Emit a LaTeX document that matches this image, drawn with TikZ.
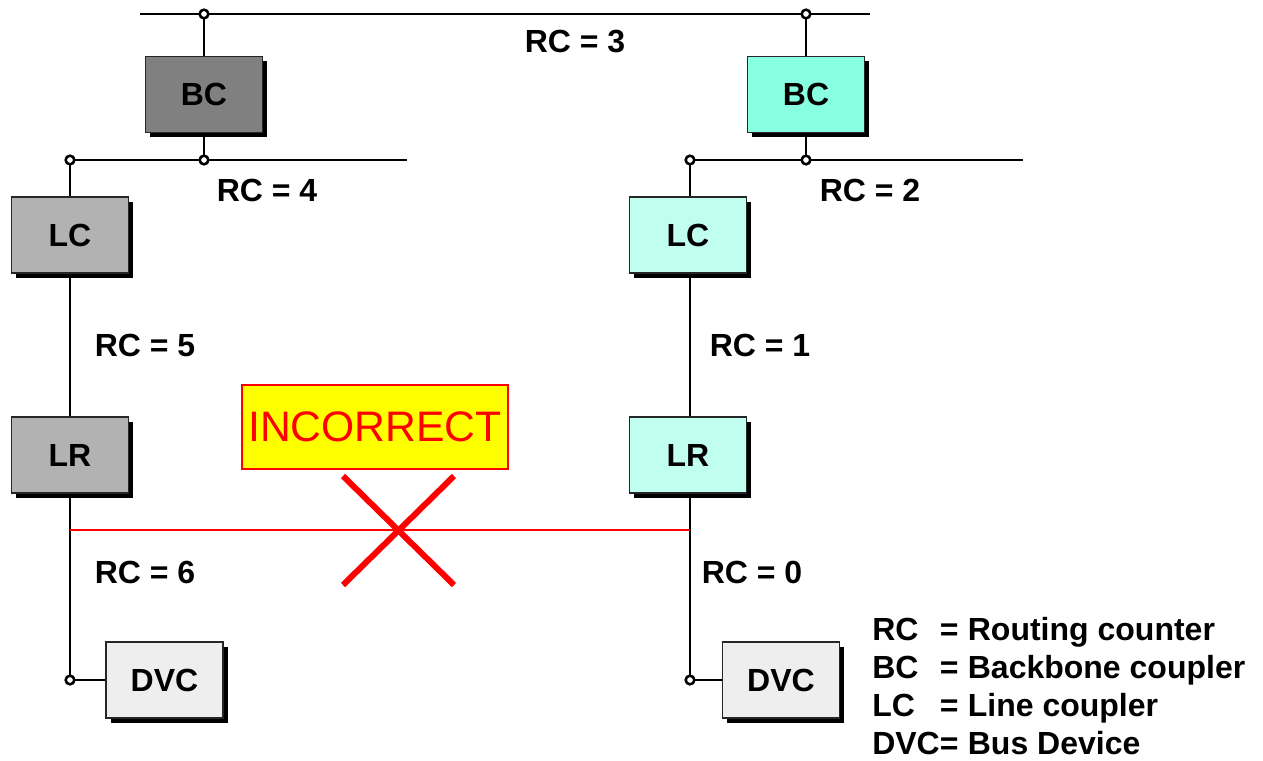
\documentclass[tikz,border=0pt]{standalone}
\usepackage{fontspec}
\setmainfont{Liberation Sans}
\usetikzlibrary{shadows}
\definecolor{bcdark}{HTML}{808080}
\definecolor{gylight}{HTML}{B2B2B2}
\definecolor{dvcgray}{HTML}{EEEEEE}
\definecolor{bcaqua}{HTML}{88FFE0}
\definecolor{aqualight}{HTML}{C0FFF0}
\definecolor{incyellow}{HTML}{FFFF00}
\newcommand{\legrow}[2]{\makebox[50.7pt][l]{#1}=\hspace{7pt}#2}
\begin{document}
\begin{tikzpicture}[x=0.75pt,y=-0.75pt,
  dev/.style={draw=black!85,line width=1.1pt,minimum width=87.75pt,minimum height=57pt,inner sep=0pt,
    font=\fontsize{24}{28}\selectfont\bfseries,
    drop shadow={shadow xshift=3.6pt,shadow yshift=-3.6pt,opacity=1,fill=black}},
  bus/.style={line width=2.1pt,black},
  junc/.style={circle,draw=black,fill=white,line width=1.9pt,minimum size=6.5pt,inner sep=0pt},
  rclabel/.style={font=\fontsize{24}{28}\selectfont\bfseries,inner sep=0pt},
  legtext/.style={font=\fontsize{24}{28}\selectfont\bfseries,inner sep=0pt,anchor=base west},
  redline/.style={line width=2.2pt,red},
  cross/.style={line width=4.5pt,red}]
\useasboundingbox (0,0) rectangle (1263,760);
% junction coordinates
\coordinate (t0) at (140,14);
\coordinate (t1) at (870,14);
\coordinate (lb0) at (407,160);
\coordinate (rb1) at (1023,160);
\coordinate (rl) at (70,530);
\coordinate (rr) at (690,530);
% devices
\node[dev,fill=bcdark] (bcL) at (204,94.5) {BC};
\node[dev,fill=bcaqua] (bcR) at (806,94.5) {BC};
\node[dev,fill=gylight] (lcL) at (70,235) {LC};
\node[dev,fill=aqualight] (lcR) at (688,235) {LC};
\node[dev,fill=gylight] (lrL) at (70,455) {LR};
\node[dev,fill=aqualight] (lrR) at (688,455) {LR};
\node[dev,fill=dvcgray] (dvL) at (164.5,680) {DVC};
\node[dev,fill=dvcgray] (dvR) at (781,680) {DVC};
% buses
\draw[bus] (t0) -- (t1);
\draw[bus] (bcL.north -| 204,0) -- (204,14);
\draw[bus] (bcL.south -| 204,0) -- (204,160);
\draw[bus] (70,160) -- (lb0);
\draw[bus] (70,160) -- (lcL.north -| 70,0);
\draw[bus] (lcL.south -| 70,0) -- (lrL.north -| 70,0);
\draw[bus] (lrL.south -| 70,0) -- (70,680);
\draw[bus] (70,680) -- (dvL.west);
\draw[bus] (bcR.north -| 806,0) -- (806,14);
\draw[bus] (bcR.south -| 806,0) -- (806,160);
\draw[bus] (690,160) -- (rb1);
\draw[bus] (690,160) -- (lcR.north -| 690,0);
\draw[bus] (lcR.south -| 690,0) -- (lrR.north -| 690,0);
\draw[bus] (lrR.south -| 690,0) -- (690,680);
\draw[bus] (690,680) -- (dvR.west);
% red link
\draw[redline] (rl) -- (rr);
% junction dots
\foreach \p in {(204,14),(806,14),(204,160),(70,160),(806,160),(690,160),(70,680),(690,680)}
  \node[junc] at \p {};
% labels
\node[rclabel] (l3) at (575,42) {RC = 3};
\node[rclabel] (l4) at (267,190) {RC = 4};
\node[rclabel] (l2) at (870,190) {RC = 2};
\node[rclabel] (l5) at (145,345) {RC = 5};
\node[rclabel] (l1) at (760,345) {RC = 1};
\node[rclabel] (l6) at (145,572) {RC = 6};
\node[rclabel] (l0) at (752,572) {RC = 0};
% INCORRECT
\node[draw=red,fill=incyellow,line width=0.8pt,minimum width=199.5pt,minimum height=63pt,inner sep=0pt,
  text=red,font=\fontsize{32}{36}\selectfont] (inc) at (375,427) {INCORRECT};
\coordinate (xa) at (343,476);
\coordinate (xb) at (454,585);
\coordinate (xc) at (454,476);
\coordinate (xd) at (343,585);
\draw[cross] (xa) -- (xb);
\draw[cross] (xc) -- (xd);
% legend
\node[legtext] (lg1) at (872,640) {\legrow{RC}{Routing counter}};
\node[legtext] (lg2) at (872,678) {\legrow{BC}{Backbone coupler}};
\node[legtext] (lg3) at (872,716) {\legrow{LC}{Line coupler}};
\node[legtext] (lg4) at (872,754) {\legrow{DVC}{Bus Device}};
\end{tikzpicture}
\end{document}
